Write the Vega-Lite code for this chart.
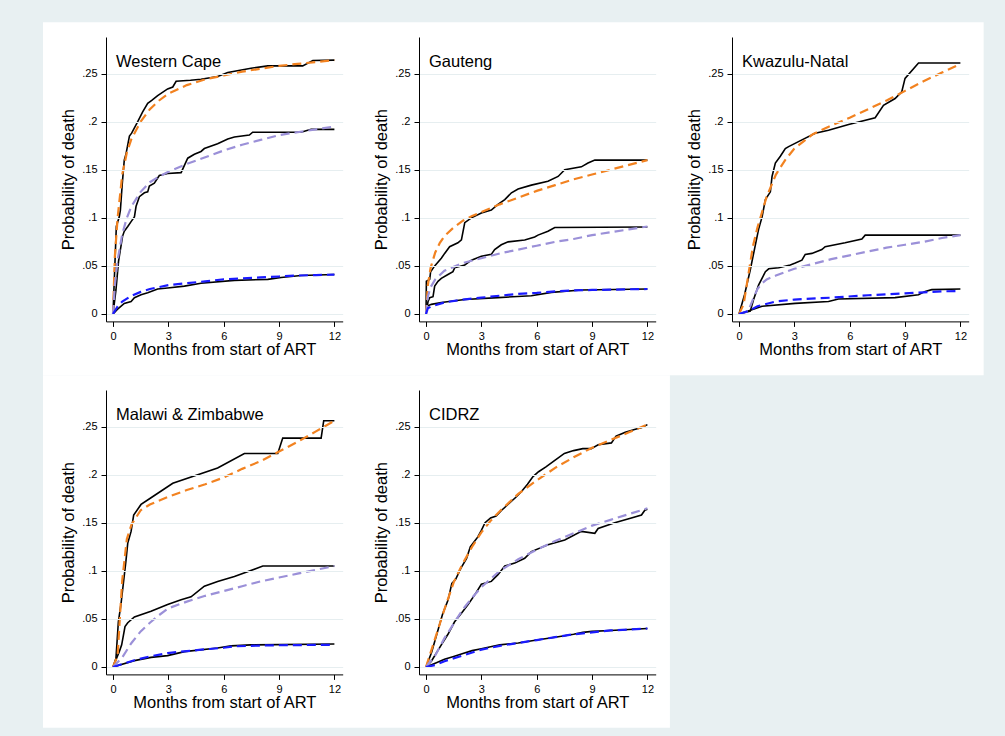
{
"$schema": "https://vega.github.io/schema/vega-lite/v6.json",
"background": "#e8f0f2",
"padding": {"left": 42, "top": 22, "right": 25, "bottom": 10},
"autosize": {"type": "pad"},
"config": {
  "view": {"stroke": null},
  "font": "Liberation Sans",
  "axis": {"domainColor": "black", "tickColor": "black", "labelColor": "black", "titleColor": "black", "labelFontSize": 11, "titleFontSize": 16.5, "titleFontWeight": "normal", "tickSize": 5, "domainWidth": 1, "tickWidth": 1, "labelFont": "Liberation Sans", "titleFont": "Liberation Sans", "labelFlush": false, "labelOverlap": false},
  "axisX": {"grid": false, "labelPadding": 4, "titlePadding": 0},
  "axisY": {"grid": true, "gridColor": "#e6eef0", "gridWidth": 1, "labelPadding": 4, "titlePadding": 5, "labelAngle": 0, "labelExpr": "datum.value == 0 ? '0' : replace(format(datum.value, '.2~f'), '0.', '.')"},
  "title": {"anchor": "start", "frame": "group", "orient": "top", "offset": -48, "dx": 10, "baseline": "alphabetic", "fontSize": 16.5, "fontWeight": "normal", "color": "black", "font": "Liberation Sans"}
},
"datasets": {
"curves": [
{"region":"WC","curve":"k1","month":0,"prob":0},{"region":"WC","curve":"k1","month":0.18,"prob":0.091},{"region":"WC","curve":"k1","month":0.34,"prob":0.101},{"region":"WC","curve":"k1","month":0.4,"prob":0.108},{"region":"WC","curve":"k1","month":0.5,"prob":0.135},{"region":"WC","curve":"k1","month":0.61,"prob":0.16},{"region":"WC","curve":"k1","month":0.7,"prob":0.166},{"region":"WC","curve":"k1","month":0.89,"prob":0.185},{"region":"WC","curve":"k1","month":1.01,"prob":0.188},{"region":"WC","curve":"k1","month":1.34,"prob":0.2},{"region":"WC","curve":"k1","month":1.6,"prob":0.21},{"region":"WC","curve":"k1","month":1.88,"prob":0.219},{"region":"WC","curve":"k1","month":2.1,"prob":0.222},{"region":"WC","curve":"k1","month":2.42,"prob":0.227},{"region":"WC","curve":"k1","month":2.96,"prob":0.234},{"region":"WC","curve":"k1","month":3.24,"prob":0.236},{"region":"WC","curve":"k1","month":3.42,"prob":0.242},{"region":"WC","curve":"k1","month":4.2,"prob":0.243},{"region":"WC","curve":"k1","month":4.77,"prob":0.244},{"region":"WC","curve":"k1","month":5.67,"prob":0.247},{"region":"WC","curve":"k1","month":6.22,"prob":0.251},{"region":"WC","curve":"k1","month":7.48,"prob":0.2555},{"region":"WC","curve":"k1","month":8.39,"prob":0.258},{"region":"WC","curve":"k1","month":10.28,"prob":0.258},{"region":"WC","curve":"k1","month":10.83,"prob":0.2635},{"region":"WC","curve":"k1","month":12,"prob":0.264},
{"region":"WC","curve":"f1","month":0,"prob":0},{"region":"WC","curve":"f1","month":0.05,"prob":0.03},{"region":"WC","curve":"f1","month":0.1,"prob":0.06},{"region":"WC","curve":"f1","month":0.25,"prob":0.1},{"region":"WC","curve":"f1","month":0.5,"prob":0.145},{"region":"WC","curve":"f1","month":0.75,"prob":0.168},{"region":"WC","curve":"f1","month":1,"prob":0.182},{"region":"WC","curve":"f1","month":1.5,"prob":0.2},{"region":"WC","curve":"f1","month":2,"prob":0.213},{"region":"WC","curve":"f1","month":2.5,"prob":0.222},{"region":"WC","curve":"f1","month":3,"prob":0.229},{"region":"WC","curve":"f1","month":4,"prob":0.238},{"region":"WC","curve":"f1","month":5,"prob":0.244},{"region":"WC","curve":"f1","month":6,"prob":0.248},{"region":"WC","curve":"f1","month":7,"prob":0.252},{"region":"WC","curve":"f1","month":8,"prob":0.255},{"region":"WC","curve":"f1","month":9,"prob":0.258},{"region":"WC","curve":"f1","month":10,"prob":0.26},{"region":"WC","curve":"f1","month":11,"prob":0.262},{"region":"WC","curve":"f1","month":12,"prob":0.264},
{"region":"WC","curve":"k2","month":0,"prob":0},{"region":"WC","curve":"k2","month":0.16,"prob":0.025},{"region":"WC","curve":"k2","month":0.3,"prob":0.055},{"region":"WC","curve":"k2","month":0.52,"prob":0.081},{"region":"WC","curve":"k2","month":0.61,"prob":0.086},{"region":"WC","curve":"k2","month":0.8,"prob":0.091},{"region":"WC","curve":"k2","month":0.98,"prob":0.096},{"region":"WC","curve":"k2","month":1.16,"prob":0.101},{"region":"WC","curve":"k2","month":1.25,"prob":0.112},{"region":"WC","curve":"k2","month":1.43,"prob":0.122},{"region":"WC","curve":"k2","month":1.7,"prob":0.126},{"region":"WC","curve":"k2","month":1.88,"prob":0.127},{"region":"WC","curve":"k2","month":1.97,"prob":0.133},{"region":"WC","curve":"k2","month":2.24,"prob":0.136},{"region":"WC","curve":"k2","month":2.51,"prob":0.144},{"region":"WC","curve":"k2","month":2.96,"prob":0.146},{"region":"WC","curve":"k2","month":3.69,"prob":0.147},{"region":"WC","curve":"k2","month":4.05,"prob":0.162},{"region":"WC","curve":"k2","month":4.41,"prob":0.166},{"region":"WC","curve":"k2","month":4.77,"prob":0.169},{"region":"WC","curve":"k2","month":4.95,"prob":0.172},{"region":"WC","curve":"k2","month":5.67,"prob":0.177},{"region":"WC","curve":"k2","month":6.22,"prob":0.182},{"region":"WC","curve":"k2","month":6.58,"prob":0.184},{"region":"WC","curve":"k2","month":7.39,"prob":0.186},{"region":"WC","curve":"k2","month":7.57,"prob":0.189},{"region":"WC","curve":"k2","month":10.19,"prob":0.189},{"region":"WC","curve":"k2","month":10.74,"prob":0.192},{"region":"WC","curve":"k2","month":12,"prob":0.192},
{"region":"WC","curve":"f2","month":0,"prob":0},{"region":"WC","curve":"f2","month":0.1,"prob":0.03},{"region":"WC","curve":"f2","month":0.25,"prob":0.056},{"region":"WC","curve":"f2","month":0.5,"prob":0.083},{"region":"WC","curve":"f2","month":0.75,"prob":0.1},{"region":"WC","curve":"f2","month":1,"prob":0.112},{"region":"WC","curve":"f2","month":1.5,"prob":0.127},{"region":"WC","curve":"f2","month":2,"prob":0.137},{"region":"WC","curve":"f2","month":2.5,"prob":0.143},{"region":"WC","curve":"f2","month":3,"prob":0.148},{"region":"WC","curve":"f2","month":4,"prob":0.156},{"region":"WC","curve":"f2","month":5,"prob":0.163},{"region":"WC","curve":"f2","month":6,"prob":0.17},{"region":"WC","curve":"f2","month":7,"prob":0.176},{"region":"WC","curve":"f2","month":8,"prob":0.181},{"region":"WC","curve":"f2","month":9,"prob":0.186},{"region":"WC","curve":"f2","month":10,"prob":0.189},{"region":"WC","curve":"f2","month":11,"prob":0.192},{"region":"WC","curve":"f2","month":12,"prob":0.195},
{"region":"WC","curve":"k3","month":0,"prob":0},{"region":"WC","curve":"k3","month":0.25,"prob":0.005},{"region":"WC","curve":"k3","month":0.61,"prob":0.011},{"region":"WC","curve":"k3","month":0.98,"prob":0.013},{"region":"WC","curve":"k3","month":1.16,"prob":0.017},{"region":"WC","curve":"k3","month":1.52,"prob":0.02},{"region":"WC","curve":"k3","month":1.88,"prob":0.022},{"region":"WC","curve":"k3","month":2.42,"prob":0.026},{"region":"WC","curve":"k3","month":2.96,"prob":0.027},{"region":"WC","curve":"k3","month":3.87,"prob":0.029},{"region":"WC","curve":"k3","month":4.77,"prob":0.032},{"region":"WC","curve":"k3","month":6.58,"prob":0.035},{"region":"WC","curve":"k3","month":8.39,"prob":0.036},{"region":"WC","curve":"k3","month":9.11,"prob":0.038},{"region":"WC","curve":"k3","month":10.19,"prob":0.04},{"region":"WC","curve":"k3","month":12,"prob":0.041},
{"region":"WC","curve":"f3","month":0,"prob":0},{"region":"WC","curve":"f3","month":0.25,"prob":0.008},{"region":"WC","curve":"f3","month":0.5,"prob":0.013},{"region":"WC","curve":"f3","month":1,"prob":0.019},{"region":"WC","curve":"f3","month":1.5,"prob":0.023},{"region":"WC","curve":"f3","month":2,"prob":0.026},{"region":"WC","curve":"f3","month":3,"prob":0.03},{"region":"WC","curve":"f3","month":4,"prob":0.032},{"region":"WC","curve":"f3","month":5,"prob":0.034},{"region":"WC","curve":"f3","month":6,"prob":0.036},{"region":"WC","curve":"f3","month":7,"prob":0.037},{"region":"WC","curve":"f3","month":8,"prob":0.038},{"region":"WC","curve":"f3","month":9,"prob":0.039},{"region":"WC","curve":"f3","month":10,"prob":0.04},{"region":"WC","curve":"f3","month":11,"prob":0.0405},{"region":"WC","curve":"f3","month":12,"prob":0.041},
{"region":"GP","curve":"k1","month":0,"prob":0},{"region":"GP","curve":"k1","month":0.02,"prob":0.034},{"region":"GP","curve":"k1","month":0.2,"prob":0.036},{"region":"GP","curve":"k1","month":0.25,"prob":0.044},{"region":"GP","curve":"k1","month":0.47,"prob":0.05},{"region":"GP","curve":"k1","month":0.83,"prob":0.058},{"region":"GP","curve":"k1","month":1.01,"prob":0.063},{"region":"GP","curve":"k1","month":1.28,"prob":0.07},{"region":"GP","curve":"k1","month":1.73,"prob":0.074},{"region":"GP","curve":"k1","month":1.92,"prob":0.077},{"region":"GP","curve":"k1","month":2.1,"prob":0.095},{"region":"GP","curve":"k1","month":2.46,"prob":0.1},{"region":"GP","curve":"k1","month":3,"prob":0.105},{"region":"GP","curve":"k1","month":3.54,"prob":0.108},{"region":"GP","curve":"k1","month":3.9,"prob":0.114},{"region":"GP","curve":"k1","month":4.27,"prob":0.119},{"region":"GP","curve":"k1","month":4.63,"prob":0.126},{"region":"GP","curve":"k1","month":4.99,"prob":0.13},{"region":"GP","curve":"k1","month":5.71,"prob":0.134},{"region":"GP","curve":"k1","month":6.61,"prob":0.138},{"region":"GP","curve":"k1","month":7.16,"prob":0.143},{"region":"GP","curve":"k1","month":7.52,"prob":0.15},{"region":"GP","curve":"k1","month":8.42,"prob":0.153},{"region":"GP","curve":"k1","month":8.78,"prob":0.157},{"region":"GP","curve":"k1","month":9.15,"prob":0.16},{"region":"GP","curve":"k1","month":12,"prob":0.16},
{"region":"GP","curve":"f1","month":0,"prob":0},{"region":"GP","curve":"f1","month":0.1,"prob":0.03},{"region":"GP","curve":"f1","month":0.25,"prob":0.048},{"region":"GP","curve":"f1","month":0.5,"prob":0.064},{"region":"GP","curve":"f1","month":0.75,"prob":0.074},{"region":"GP","curve":"f1","month":1,"prob":0.081},{"region":"GP","curve":"f1","month":1.5,"prob":0.09},{"region":"GP","curve":"f1","month":2,"prob":0.097},{"region":"GP","curve":"f1","month":2.5,"prob":0.102},{"region":"GP","curve":"f1","month":3,"prob":0.106},{"region":"GP","curve":"f1","month":4,"prob":0.114},{"region":"GP","curve":"f1","month":5,"prob":0.121},{"region":"GP","curve":"f1","month":6,"prob":0.128},{"region":"GP","curve":"f1","month":7,"prob":0.134},{"region":"GP","curve":"f1","month":8,"prob":0.14},{"region":"GP","curve":"f1","month":9,"prob":0.145},{"region":"GP","curve":"f1","month":10,"prob":0.15},{"region":"GP","curve":"f1","month":11,"prob":0.155},{"region":"GP","curve":"f1","month":12,"prob":0.16},
{"region":"GP","curve":"k2","month":0,"prob":0},{"region":"GP","curve":"k2","month":0.11,"prob":0.013},{"region":"GP","curve":"k2","month":0.2,"prob":0.017},{"region":"GP","curve":"k2","month":0.38,"prob":0.018},{"region":"GP","curve":"k2","month":0.47,"prob":0.029},{"region":"GP","curve":"k2","month":0.65,"prob":0.034},{"region":"GP","curve":"k2","month":0.83,"prob":0.037},{"region":"GP","curve":"k2","month":1.19,"prob":0.041},{"region":"GP","curve":"k2","month":1.46,"prob":0.044},{"region":"GP","curve":"k2","month":1.55,"prob":0.048},{"region":"GP","curve":"k2","month":2.1,"prob":0.051},{"region":"GP","curve":"k2","month":2.46,"prob":0.056},{"region":"GP","curve":"k2","month":3,"prob":0.06},{"region":"GP","curve":"k2","month":3.54,"prob":0.062},{"region":"GP","curve":"k2","month":3.72,"prob":0.067},{"region":"GP","curve":"k2","month":4.08,"prob":0.072},{"region":"GP","curve":"k2","month":4.45,"prob":0.075},{"region":"GP","curve":"k2","month":5.35,"prob":0.077},{"region":"GP","curve":"k2","month":5.89,"prob":0.08},{"region":"GP","curve":"k2","month":6.07,"prob":0.082},{"region":"GP","curve":"k2","month":6.61,"prob":0.086},{"region":"GP","curve":"k2","month":6.98,"prob":0.09},{"region":"GP","curve":"k2","month":12,"prob":0.0905},
{"region":"GP","curve":"f2","month":0,"prob":0},{"region":"GP","curve":"f2","month":0.1,"prob":0.018},{"region":"GP","curve":"f2","month":0.25,"prob":0.028},{"region":"GP","curve":"f2","month":0.5,"prob":0.036},{"region":"GP","curve":"f2","month":1,"prob":0.045},{"region":"GP","curve":"f2","month":1.5,"prob":0.049},{"region":"GP","curve":"f2","month":2,"prob":0.053},{"region":"GP","curve":"f2","month":3,"prob":0.058},{"region":"GP","curve":"f2","month":4,"prob":0.063},{"region":"GP","curve":"f2","month":5,"prob":0.067},{"region":"GP","curve":"f2","month":6,"prob":0.071},{"region":"GP","curve":"f2","month":7,"prob":0.075},{"region":"GP","curve":"f2","month":8,"prob":0.078},{"region":"GP","curve":"f2","month":9,"prob":0.082},{"region":"GP","curve":"f2","month":10,"prob":0.085},{"region":"GP","curve":"f2","month":11,"prob":0.088},{"region":"GP","curve":"f2","month":12,"prob":0.091},
{"region":"GP","curve":"k3","month":0,"prob":0},{"region":"GP","curve":"k3","month":0.04,"prob":0.008},{"region":"GP","curve":"k3","month":0.29,"prob":0.01},{"region":"GP","curve":"k3","month":0.83,"prob":0.012},{"region":"GP","curve":"k3","month":2.1,"prob":0.015},{"region":"GP","curve":"k3","month":3.9,"prob":0.017},{"region":"GP","curve":"k3","month":5.71,"prob":0.019},{"region":"GP","curve":"k3","month":6.8,"prob":0.0225},{"region":"GP","curve":"k3","month":8.42,"prob":0.025},{"region":"GP","curve":"k3","month":12,"prob":0.026},
{"region":"GP","curve":"f3","month":0,"prob":0},{"region":"GP","curve":"f3","month":0.1,"prob":0.006},{"region":"GP","curve":"f3","month":0.3,"prob":0.008},{"region":"GP","curve":"f3","month":1,"prob":0.012},{"region":"GP","curve":"f3","month":2,"prob":0.015},{"region":"GP","curve":"f3","month":3,"prob":0.017},{"region":"GP","curve":"f3","month":4,"prob":0.019},{"region":"GP","curve":"f3","month":5,"prob":0.021},{"region":"GP","curve":"f3","month":6,"prob":0.022},{"region":"GP","curve":"f3","month":7,"prob":0.0235},{"region":"GP","curve":"f3","month":8,"prob":0.0245},{"region":"GP","curve":"f3","month":9,"prob":0.025},{"region":"GP","curve":"f3","month":10,"prob":0.0253},{"region":"GP","curve":"f3","month":11,"prob":0.0257},{"region":"GP","curve":"f3","month":12,"prob":0.026},
{"region":"KZN","curve":"k1","month":0,"prob":0},{"region":"KZN","curve":"k1","month":0.3,"prob":0.02},{"region":"KZN","curve":"k1","month":0.6,"prob":0.045},{"region":"KZN","curve":"k1","month":1.06,"prob":0.088},{"region":"KZN","curve":"k1","month":1.25,"prob":0.101},{"region":"KZN","curve":"k1","month":1.43,"prob":0.119},{"region":"KZN","curve":"k1","month":1.7,"prob":0.127},{"region":"KZN","curve":"k1","month":1.79,"prob":0.143},{"region":"KZN","curve":"k1","month":1.97,"prob":0.157},{"region":"KZN","curve":"k1","month":2.24,"prob":0.164},{"region":"KZN","curve":"k1","month":2.51,"prob":0.172},{"region":"KZN","curve":"k1","month":2.69,"prob":0.174},{"region":"KZN","curve":"k1","month":3.41,"prob":0.181},{"region":"KZN","curve":"k1","month":4.13,"prob":0.188},{"region":"KZN","curve":"k1","month":4.85,"prob":0.191},{"region":"KZN","curve":"k1","month":5.94,"prob":0.197},{"region":"KZN","curve":"k1","month":7.38,"prob":0.204},{"region":"KZN","curve":"k1","month":7.83,"prob":0.217},{"region":"KZN","curve":"k1","month":8.46,"prob":0.224},{"region":"KZN","curve":"k1","month":8.82,"prob":0.231},{"region":"KZN","curve":"k1","month":9,"prob":0.245},{"region":"KZN","curve":"k1","month":9.73,"prob":0.261},{"region":"KZN","curve":"k1","month":12,"prob":0.261},
{"region":"KZN","curve":"f1","month":0,"prob":0},{"region":"KZN","curve":"f1","month":0.25,"prob":0.01},{"region":"KZN","curve":"f1","month":0.5,"prob":0.04},{"region":"KZN","curve":"f1","month":0.75,"prob":0.07},{"region":"KZN","curve":"f1","month":1,"prob":0.09},{"region":"KZN","curve":"f1","month":1.5,"prob":0.122},{"region":"KZN","curve":"f1","month":2,"prob":0.145},{"region":"KZN","curve":"f1","month":2.5,"prob":0.16},{"region":"KZN","curve":"f1","month":3,"prob":0.172},{"region":"KZN","curve":"f1","month":4,"prob":0.187},{"region":"KZN","curve":"f1","month":5,"prob":0.196},{"region":"KZN","curve":"f1","month":6,"prob":0.204},{"region":"KZN","curve":"f1","month":7,"prob":0.213},{"region":"KZN","curve":"f1","month":8,"prob":0.222},{"region":"KZN","curve":"f1","month":9,"prob":0.232},{"region":"KZN","curve":"f1","month":10,"prob":0.242},{"region":"KZN","curve":"f1","month":11,"prob":0.251},{"region":"KZN","curve":"f1","month":12,"prob":0.26},
{"region":"KZN","curve":"k2","month":0,"prob":0},{"region":"KZN","curve":"k2","month":0.61,"prob":0.003},{"region":"KZN","curve":"k2","month":0.79,"prob":0.015},{"region":"KZN","curve":"k2","month":1.06,"prob":0.03},{"region":"KZN","curve":"k2","month":1.43,"prob":0.044},{"region":"KZN","curve":"k2","month":1.61,"prob":0.047},{"region":"KZN","curve":"k2","month":2.15,"prob":0.048},{"region":"KZN","curve":"k2","month":2.78,"prob":0.051},{"region":"KZN","curve":"k2","month":3.05,"prob":0.053},{"region":"KZN","curve":"k2","month":3.41,"prob":0.056},{"region":"KZN","curve":"k2","month":3.59,"prob":0.062},{"region":"KZN","curve":"k2","month":3.95,"prob":0.063},{"region":"KZN","curve":"k2","month":4.49,"prob":0.067},{"region":"KZN","curve":"k2","month":4.67,"prob":0.07},{"region":"KZN","curve":"k2","month":5.75,"prob":0.074},{"region":"KZN","curve":"k2","month":6.66,"prob":0.078},{"region":"KZN","curve":"k2","month":6.84,"prob":0.082},{"region":"KZN","curve":"k2","month":12,"prob":0.082},
{"region":"KZN","curve":"f2","month":0,"prob":0},{"region":"KZN","curve":"f2","month":0.5,"prob":0.003},{"region":"KZN","curve":"f2","month":0.75,"prob":0.015},{"region":"KZN","curve":"f2","month":1,"prob":0.026},{"region":"KZN","curve":"f2","month":1.25,"prob":0.032},{"region":"KZN","curve":"f2","month":1.5,"prob":0.036},{"region":"KZN","curve":"f2","month":2,"prob":0.04},{"region":"KZN","curve":"f2","month":3,"prob":0.047},{"region":"KZN","curve":"f2","month":4,"prob":0.052},{"region":"KZN","curve":"f2","month":5,"prob":0.057},{"region":"KZN","curve":"f2","month":6,"prob":0.061},{"region":"KZN","curve":"f2","month":7,"prob":0.065},{"region":"KZN","curve":"f2","month":8,"prob":0.069},{"region":"KZN","curve":"f2","month":9,"prob":0.072},{"region":"KZN","curve":"f2","month":10,"prob":0.075},{"region":"KZN","curve":"f2","month":11,"prob":0.079},{"region":"KZN","curve":"f2","month":12,"prob":0.082},
{"region":"KZN","curve":"k3","month":0,"prob":0},{"region":"KZN","curve":"k3","month":0.5,"prob":0.003},{"region":"KZN","curve":"k3","month":1.25,"prob":0.008},{"region":"KZN","curve":"k3","month":3.05,"prob":0.011},{"region":"KZN","curve":"k3","month":4.85,"prob":0.013},{"region":"KZN","curve":"k3","month":5.39,"prob":0.0156},{"region":"KZN","curve":"k3","month":8.46,"prob":0.017},{"region":"KZN","curve":"k3","month":9.73,"prob":0.02},{"region":"KZN","curve":"k3","month":10.09,"prob":0.0235},{"region":"KZN","curve":"k3","month":10.45,"prob":0.0253},{"region":"KZN","curve":"k3","month":12,"prob":0.026},
{"region":"KZN","curve":"f3","month":0,"prob":0},{"region":"KZN","curve":"f3","month":0.5,"prob":0.003},{"region":"KZN","curve":"f3","month":1,"prob":0.008},{"region":"KZN","curve":"f3","month":2,"prob":0.013},{"region":"KZN","curve":"f3","month":3,"prob":0.015},{"region":"KZN","curve":"f3","month":5,"prob":0.017},{"region":"KZN","curve":"f3","month":7,"prob":0.0195},{"region":"KZN","curve":"f3","month":9,"prob":0.0215},{"region":"KZN","curve":"f3","month":10,"prob":0.0225},{"region":"KZN","curve":"f3","month":11,"prob":0.0235},{"region":"KZN","curve":"f3","month":12,"prob":0.024},
{"region":"MZ","curve":"k1","month":0,"prob":0},{"region":"MZ","curve":"k1","month":0.16,"prob":0.009},{"region":"MZ","curve":"k1","month":0.29,"prob":0.047},{"region":"MZ","curve":"k1","month":0.43,"prob":0.065},{"region":"MZ","curve":"k1","month":0.7,"prob":0.11},{"region":"MZ","curve":"k1","month":0.8,"prob":0.129},{"region":"MZ","curve":"k1","month":0.98,"prob":0.141},{"region":"MZ","curve":"k1","month":1.12,"prob":0.158},{"region":"MZ","curve":"k1","month":1.52,"prob":0.169},{"region":"MZ","curve":"k1","month":2.06,"prob":0.176},{"region":"MZ","curve":"k1","month":3.24,"prob":0.191},{"region":"MZ","curve":"k1","month":5.67,"prob":0.207},{"region":"MZ","curve":"k1","month":7.12,"prob":0.222},{"region":"MZ","curve":"k1","month":8.93,"prob":0.222},{"region":"MZ","curve":"k1","month":9.2,"prob":0.238},{"region":"MZ","curve":"k1","month":11.28,"prob":0.238},{"region":"MZ","curve":"k1","month":11.42,"prob":0.256},{"region":"MZ","curve":"k1","month":12,"prob":0.256},
{"region":"MZ","curve":"f1","month":0,"prob":0},{"region":"MZ","curve":"f1","month":0.25,"prob":0.012},{"region":"MZ","curve":"f1","month":0.4,"prob":0.06},{"region":"MZ","curve":"f1","month":0.5,"prob":0.09},{"region":"MZ","curve":"f1","month":0.75,"prob":0.133},{"region":"MZ","curve":"f1","month":1,"prob":0.148},{"region":"MZ","curve":"f1","month":1.5,"prob":0.163},{"region":"MZ","curve":"f1","month":2,"prob":0.169},{"region":"MZ","curve":"f1","month":3,"prob":0.177},{"region":"MZ","curve":"f1","month":4,"prob":0.184},{"region":"MZ","curve":"f1","month":5,"prob":0.19},{"region":"MZ","curve":"f1","month":6,"prob":0.197},{"region":"MZ","curve":"f1","month":7,"prob":0.206},{"region":"MZ","curve":"f1","month":8,"prob":0.214},{"region":"MZ","curve":"f1","month":9,"prob":0.224},{"region":"MZ","curve":"f1","month":10,"prob":0.234},{"region":"MZ","curve":"f1","month":11,"prob":0.245},{"region":"MZ","curve":"f1","month":12,"prob":0.256},
{"region":"MZ","curve":"k2","month":0,"prob":0},{"region":"MZ","curve":"k2","month":0.34,"prob":0.016},{"region":"MZ","curve":"k2","month":0.47,"prob":0.023},{"region":"MZ","curve":"k2","month":0.65,"prob":0.042},{"region":"MZ","curve":"k2","month":0.8,"prob":0.046},{"region":"MZ","curve":"k2","month":1.16,"prob":0.052},{"region":"MZ","curve":"k2","month":2.06,"prob":0.058},{"region":"MZ","curve":"k2","month":2.96,"prob":0.065},{"region":"MZ","curve":"k2","month":3.69,"prob":0.07},{"region":"MZ","curve":"k2","month":4.23,"prob":0.073},{"region":"MZ","curve":"k2","month":4.95,"prob":0.084},{"region":"MZ","curve":"k2","month":5.67,"prob":0.089},{"region":"MZ","curve":"k2","month":6.58,"prob":0.094},{"region":"MZ","curve":"k2","month":8.12,"prob":0.105},{"region":"MZ","curve":"k2","month":12,"prob":0.105},
{"region":"MZ","curve":"f2","month":0,"prob":0},{"region":"MZ","curve":"f2","month":0.5,"prob":0.01},{"region":"MZ","curve":"f2","month":1,"prob":0.025},{"region":"MZ","curve":"f2","month":1.5,"prob":0.037},{"region":"MZ","curve":"f2","month":2,"prob":0.046},{"region":"MZ","curve":"f2","month":2.5,"prob":0.054},{"region":"MZ","curve":"f2","month":3,"prob":0.061},{"region":"MZ","curve":"f2","month":4,"prob":0.068},{"region":"MZ","curve":"f2","month":5,"prob":0.074},{"region":"MZ","curve":"f2","month":6,"prob":0.079},{"region":"MZ","curve":"f2","month":7,"prob":0.084},{"region":"MZ","curve":"f2","month":8,"prob":0.089},{"region":"MZ","curve":"f2","month":9,"prob":0.093},{"region":"MZ","curve":"f2","month":10,"prob":0.097},{"region":"MZ","curve":"f2","month":11,"prob":0.101},{"region":"MZ","curve":"f2","month":12,"prob":0.105},
{"region":"MZ","curve":"k3","month":0,"prob":0},{"region":"MZ","curve":"k3","month":1.16,"prob":0.0066},{"region":"MZ","curve":"k3","month":2.06,"prob":0.01},{"region":"MZ","curve":"k3","month":2.96,"prob":0.0118},{"region":"MZ","curve":"k3","month":3.87,"prob":0.016},{"region":"MZ","curve":"k3","month":5.67,"prob":0.0197},{"region":"MZ","curve":"k3","month":6.4,"prob":0.022},{"region":"MZ","curve":"k3","month":7.48,"prob":0.023},{"region":"MZ","curve":"k3","month":12,"prob":0.0239},
{"region":"MZ","curve":"f3","month":0,"prob":0},{"region":"MZ","curve":"f3","month":0.5,"prob":0.003},{"region":"MZ","curve":"f3","month":1.16,"prob":0.007},{"region":"MZ","curve":"f3","month":2,"prob":0.011},{"region":"MZ","curve":"f3","month":2.96,"prob":0.0145},{"region":"MZ","curve":"f3","month":4,"prob":0.0165},{"region":"MZ","curve":"f3","month":4.77,"prob":0.018},{"region":"MZ","curve":"f3","month":6,"prob":0.02},{"region":"MZ","curve":"f3","month":6.58,"prob":0.0215},{"region":"MZ","curve":"f3","month":8.39,"prob":0.0225},{"region":"MZ","curve":"f3","month":10,"prob":0.0228},{"region":"MZ","curve":"f3","month":12,"prob":0.023},
{"region":"CZ","curve":"k1","month":0,"prob":0},{"region":"CZ","curve":"k1","month":0.3,"prob":0.015},{"region":"CZ","curve":"k1","month":0.6,"prob":0.035},{"region":"CZ","curve":"k1","month":0.9,"prob":0.055},{"region":"CZ","curve":"k1","month":1.2,"prob":0.07},{"region":"CZ","curve":"k1","month":1.4,"prob":0.087},{"region":"CZ","curve":"k1","month":1.6,"prob":0.091},{"region":"CZ","curve":"k1","month":1.9,"prob":0.103},{"region":"CZ","curve":"k1","month":2.2,"prob":0.113},{"region":"CZ","curve":"k1","month":2.4,"prob":0.125},{"region":"CZ","curve":"k1","month":2.6,"prob":0.13},{"region":"CZ","curve":"k1","month":2.8,"prob":0.135},{"region":"CZ","curve":"k1","month":3,"prob":0.142},{"region":"CZ","curve":"k1","month":3.2,"prob":0.15},{"region":"CZ","curve":"k1","month":3.5,"prob":0.155},{"region":"CZ","curve":"k1","month":3.8,"prob":0.157},{"region":"CZ","curve":"k1","month":4.1,"prob":0.163},{"region":"CZ","curve":"k1","month":4.5,"prob":0.17},{"region":"CZ","curve":"k1","month":4.9,"prob":0.177},{"region":"CZ","curve":"k1","month":5.2,"prob":0.183},{"region":"CZ","curve":"k1","month":5.5,"prob":0.19},{"region":"CZ","curve":"k1","month":5.8,"prob":0.198},{"region":"CZ","curve":"k1","month":6.1,"prob":0.203},{"region":"CZ","curve":"k1","month":6.5,"prob":0.208},{"region":"CZ","curve":"k1","month":7,"prob":0.215},{"region":"CZ","curve":"k1","month":7.5,"prob":0.222},{"region":"CZ","curve":"k1","month":8,"prob":0.225},{"region":"CZ","curve":"k1","month":8.5,"prob":0.227},{"region":"CZ","curve":"k1","month":8.96,"prob":0.227},{"region":"CZ","curve":"k1","month":9.33,"prob":0.231},{"region":"CZ","curve":"k1","month":10.05,"prob":0.233},{"region":"CZ","curve":"k1","month":10.3,"prob":0.24},{"region":"CZ","curve":"k1","month":10.8,"prob":0.244},{"region":"CZ","curve":"k1","month":11.3,"prob":0.247},{"region":"CZ","curve":"k1","month":11.7,"prob":0.249},{"region":"CZ","curve":"k1","month":12,"prob":0.252},
{"region":"CZ","curve":"f1","month":0,"prob":0},{"region":"CZ","curve":"f1","month":0.5,"prob":0.03},{"region":"CZ","curve":"f1","month":1,"prob":0.06},{"region":"CZ","curve":"f1","month":1.5,"prob":0.088},{"region":"CZ","curve":"f1","month":2,"prob":0.108},{"region":"CZ","curve":"f1","month":2.5,"prob":0.125},{"region":"CZ","curve":"f1","month":3,"prob":0.14},{"region":"CZ","curve":"f1","month":3.5,"prob":0.152},{"region":"CZ","curve":"f1","month":4,"prob":0.162},{"region":"CZ","curve":"f1","month":5,"prob":0.18},{"region":"CZ","curve":"f1","month":6,"prob":0.194},{"region":"CZ","curve":"f1","month":7,"prob":0.207},{"region":"CZ","curve":"f1","month":8,"prob":0.218},{"region":"CZ","curve":"f1","month":9,"prob":0.228},{"region":"CZ","curve":"f1","month":10,"prob":0.236},{"region":"CZ","curve":"f1","month":11,"prob":0.244},{"region":"CZ","curve":"f1","month":12,"prob":0.252},
{"region":"CZ","curve":"k2","month":0,"prob":0},{"region":"CZ","curve":"k2","month":0.29,"prob":0.006},{"region":"CZ","curve":"k2","month":0.83,"prob":0.023},{"region":"CZ","curve":"k2","month":1.19,"prob":0.034},{"region":"CZ","curve":"k2","month":1.55,"prob":0.047},{"region":"CZ","curve":"k2","month":1.92,"prob":0.056},{"region":"CZ","curve":"k2","month":2.28,"prob":0.065},{"region":"CZ","curve":"k2","month":2.64,"prob":0.075},{"region":"CZ","curve":"k2","month":3,"prob":0.086},{"region":"CZ","curve":"k2","month":3.18,"prob":0.087},{"region":"CZ","curve":"k2","month":3.54,"prob":0.089},{"region":"CZ","curve":"k2","month":3.9,"prob":0.096},{"region":"CZ","curve":"k2","month":4.27,"prob":0.105},{"region":"CZ","curve":"k2","month":4.81,"prob":0.108},{"region":"CZ","curve":"k2","month":5.35,"prob":0.113},{"region":"CZ","curve":"k2","month":5.71,"prob":0.12},{"region":"CZ","curve":"k2","month":6.61,"prob":0.127},{"region":"CZ","curve":"k2","month":7.52,"prob":0.132},{"region":"CZ","curve":"k2","month":8.42,"prob":0.141},{"region":"CZ","curve":"k2","month":9.15,"prob":0.139},{"region":"CZ","curve":"k2","month":9.33,"prob":0.144},{"region":"CZ","curve":"k2","month":10.23,"prob":0.15},{"region":"CZ","curve":"k2","month":11.13,"prob":0.155},{"region":"CZ","curve":"k2","month":11.68,"prob":0.158},{"region":"CZ","curve":"k2","month":11.86,"prob":0.163},{"region":"CZ","curve":"k2","month":12,"prob":0.164},
{"region":"CZ","curve":"f2","month":0,"prob":0},{"region":"CZ","curve":"f2","month":0.5,"prob":0.012},{"region":"CZ","curve":"f2","month":1,"prob":0.03},{"region":"CZ","curve":"f2","month":1.5,"prob":0.045},{"region":"CZ","curve":"f2","month":2,"prob":0.06},{"region":"CZ","curve":"f2","month":2.5,"prob":0.072},{"region":"CZ","curve":"f2","month":3,"prob":0.083},{"region":"CZ","curve":"f2","month":4,"prob":0.1},{"region":"CZ","curve":"f2","month":5,"prob":0.112},{"region":"CZ","curve":"f2","month":6,"prob":0.122},{"region":"CZ","curve":"f2","month":7,"prob":0.131},{"region":"CZ","curve":"f2","month":8,"prob":0.139},{"region":"CZ","curve":"f2","month":9,"prob":0.147},{"region":"CZ","curve":"f2","month":10,"prob":0.153},{"region":"CZ","curve":"f2","month":11,"prob":0.159},{"region":"CZ","curve":"f2","month":12,"prob":0.165},
{"region":"CZ","curve":"k3","month":0,"prob":0},{"region":"CZ","curve":"k3","month":0.5,"prob":0.004},{"region":"CZ","curve":"k3","month":1,"prob":0.008},{"region":"CZ","curve":"k3","month":1.5,"prob":0.011},{"region":"CZ","curve":"k3","month":2,"prob":0.014},{"region":"CZ","curve":"k3","month":2.5,"prob":0.017},{"region":"CZ","curve":"k3","month":3,"prob":0.019},{"region":"CZ","curve":"k3","month":3.5,"prob":0.021},{"region":"CZ","curve":"k3","month":4,"prob":0.023},{"region":"CZ","curve":"k3","month":5,"prob":0.025},{"region":"CZ","curve":"k3","month":6,"prob":0.028},{"region":"CZ","curve":"k3","month":7,"prob":0.031},{"region":"CZ","curve":"k3","month":8,"prob":0.034},{"region":"CZ","curve":"k3","month":8.5,"prob":0.036},{"region":"CZ","curve":"k3","month":9,"prob":0.037},{"region":"CZ","curve":"k3","month":10,"prob":0.038},{"region":"CZ","curve":"k3","month":11,"prob":0.039},{"region":"CZ","curve":"k3","month":12,"prob":0.04},
{"region":"CZ","curve":"f3","month":0,"prob":0},{"region":"CZ","curve":"f3","month":0.5,"prob":0.002},{"region":"CZ","curve":"f3","month":1,"prob":0.006},{"region":"CZ","curve":"f3","month":2,"prob":0.012},{"region":"CZ","curve":"f3","month":3,"prob":0.018},{"region":"CZ","curve":"f3","month":4,"prob":0.022},{"region":"CZ","curve":"f3","month":5,"prob":0.025},{"region":"CZ","curve":"f3","month":6,"prob":0.028},{"region":"CZ","curve":"f3","month":7,"prob":0.031},{"region":"CZ","curve":"f3","month":8,"prob":0.034},{"region":"CZ","curve":"f3","month":9,"prob":0.036},{"region":"CZ","curve":"f3","month":10,"prob":0.038},{"region":"CZ","curve":"f3","month":11,"prob":0.039},{"region":"CZ","curve":"f3","month":12,"prob":0.04}
]
},
"vconcat": [
{"hconcat": [
{"width": 236.7, "height": 284.4, "data": {"name": "curves"}, "transform": [{"filter": "datum.region == 'WC'"}], "title": {"text": "Western Cape"},
 "layer": [
  {"transform": [{"aggregate": [{"op": "count", "as": "n"}]}], "mark": {"type": "rect", "fill": "white"}, "encoding": {"x": {"datum": -3.795, "type": "quantitative", "scale": {"domain": [-0.38, 12.45], "nice": false, "zero": false}}, "x2": {"datum": 13.17}, "y": {"datum": 0.3034, "type": "quantitative", "scale": {"domain": [-0.0077, 0.288], "nice": false, "zero": false}}, "y2": {"datum": -0.0638}}},
  {"transform": [{"filter": {"field": "curve", "oneOf": ["k1","k2","k3"]}}], "mark": {"type": "line", "color": "black", "strokeWidth": 1.6}, "encoding": {"x": {"field": "month", "type": "quantitative", "scale": {"domain": [-0.38, 12.45], "nice": false, "zero": false}, "axis": {"zindex": 2, "values": [0,3,6,9,12], "title": "Months from start of ART"}}, "y": {"field": "prob", "type": "quantitative", "scale": {"domain": [-0.0077, 0.288], "nice": false, "zero": false}, "axis": {"zindex": 2, "values": [0,0.05,0.1,0.15,0.2,0.25], "title": "Probability of death"}}, "detail": {"field": "curve"}}},
  {"transform": [{"filter": {"field": "curve", "oneOf": ["f1","f2","f3"]}}], "mark": {"type": "line", "strokeWidth": 2.2, "strokeDash": [9, 5]}, "encoding": {"x": {"field": "month", "type": "quantitative"}, "y": {"field": "prob", "type": "quantitative"}, "color": {"field": "curve", "type": "nominal", "scale": {"domain": ["f1","f2","f3"], "range": ["#f28220","#9b90d8","#1a1aff"]}, "legend": null}}}
 ]},
{"width": 236.7, "height": 284.4, "data": {"name": "curves"}, "transform": [{"filter": "datum.region == 'GP'"}], "title": {"text": "Gauteng"},
 "layer": [
  {"transform": [{"aggregate": [{"op": "count", "as": "n"}]}], "mark": {"type": "rect", "fill": "white"}, "encoding": {"x": {"datum": -3.795, "type": "quantitative", "scale": {"domain": [-0.38, 12.45], "nice": false, "zero": false}}, "x2": {"datum": 13.17}, "y": {"datum": 0.3034, "type": "quantitative", "scale": {"domain": [-0.0077, 0.288], "nice": false, "zero": false}}, "y2": {"datum": -0.0638}}},
  {"transform": [{"filter": {"field": "curve", "oneOf": ["k1","k2","k3"]}}], "mark": {"type": "line", "color": "black", "strokeWidth": 1.6}, "encoding": {"x": {"field": "month", "type": "quantitative", "scale": {"domain": [-0.38, 12.45], "nice": false, "zero": false}, "axis": {"zindex": 2, "values": [0,3,6,9,12], "title": "Months from start of ART"}}, "y": {"field": "prob", "type": "quantitative", "scale": {"domain": [-0.0077, 0.288], "nice": false, "zero": false}, "axis": {"zindex": 2, "values": [0,0.05,0.1,0.15,0.2,0.25], "title": "Probability of death"}}, "detail": {"field": "curve"}}},
  {"transform": [{"filter": {"field": "curve", "oneOf": ["f1","f2","f3"]}}], "mark": {"type": "line", "strokeWidth": 2.2, "strokeDash": [9, 5]}, "encoding": {"x": {"field": "month", "type": "quantitative"}, "y": {"field": "prob", "type": "quantitative"}, "color": {"field": "curve", "type": "nominal", "scale": {"domain": ["f1","f2","f3"], "range": ["#f28220","#9b90d8","#1a1aff"]}, "legend": null}}}
 ]},
{"width": 236.7, "height": 284.4, "data": {"name": "curves"}, "transform": [{"filter": "datum.region == 'KZN'"}], "title": {"text": "Kwazulu-Natal"},
 "layer": [
  {"transform": [{"aggregate": [{"op": "count", "as": "n"}]}], "mark": {"type": "rect", "fill": "white"}, "encoding": {"x": {"datum": -3.795, "type": "quantitative", "scale": {"domain": [-0.38, 12.45], "nice": false, "zero": false}}, "x2": {"datum": 13.26}, "y": {"datum": 0.3034, "type": "quantitative", "scale": {"domain": [-0.0077, 0.288], "nice": false, "zero": false}}, "y2": {"datum": -0.0638}}},
  {"transform": [{"filter": {"field": "curve", "oneOf": ["k1","k2","k3"]}}], "mark": {"type": "line", "color": "black", "strokeWidth": 1.6}, "encoding": {"x": {"field": "month", "type": "quantitative", "scale": {"domain": [-0.38, 12.45], "nice": false, "zero": false}, "axis": {"zindex": 2, "values": [0,3,6,9,12], "title": "Months from start of ART"}}, "y": {"field": "prob", "type": "quantitative", "scale": {"domain": [-0.0077, 0.288], "nice": false, "zero": false}, "axis": {"zindex": 2, "values": [0,0.05,0.1,0.15,0.2,0.25], "title": "Probability of death"}}, "detail": {"field": "curve"}}},
  {"transform": [{"filter": {"field": "curve", "oneOf": ["f1","f2","f3"]}}], "mark": {"type": "line", "strokeWidth": 2.2, "strokeDash": [9, 5]}, "encoding": {"x": {"field": "month", "type": "quantitative"}, "y": {"field": "prob", "type": "quantitative"}, "color": {"field": "curve", "type": "nominal", "scale": {"domain": ["f1","f2","f3"], "range": ["#f28220","#9b90d8","#1a1aff"]}, "legend": null}}}
 ]}
], "spacing": -1},
{"hconcat": [
{"width": 236.7, "height": 284.4, "data": {"name": "curves"}, "transform": [{"filter": "datum.region == 'MZ'"}], "title": {"text": "Malawi & Zimbabwe"},
 "layer": [
  {"transform": [{"aggregate": [{"op": "count", "as": "n"}]}], "mark": {"type": "rect", "fill": "white"}, "encoding": {"x": {"datum": -3.795, "type": "quantitative", "scale": {"domain": [-0.38, 12.45], "nice": false, "zero": false}}, "x2": {"datum": 13.17}, "y": {"datum": 0.3034, "type": "quantitative", "scale": {"domain": [-0.0077, 0.288], "nice": false, "zero": false}}, "y2": {"datum": -0.0631}}},
  {"transform": [{"filter": {"field": "curve", "oneOf": ["k1","k2","k3"]}}], "mark": {"type": "line", "color": "black", "strokeWidth": 1.6}, "encoding": {"x": {"field": "month", "type": "quantitative", "scale": {"domain": [-0.38, 12.45], "nice": false, "zero": false}, "axis": {"zindex": 2, "values": [0,3,6,9,12], "title": "Months from start of ART"}}, "y": {"field": "prob", "type": "quantitative", "scale": {"domain": [-0.0077, 0.288], "nice": false, "zero": false}, "axis": {"zindex": 2, "values": [0,0.05,0.1,0.15,0.2,0.25], "title": "Probability of death"}}, "detail": {"field": "curve"}}},
  {"transform": [{"filter": {"field": "curve", "oneOf": ["f1","f2","f3"]}}], "mark": {"type": "line", "strokeWidth": 2.2, "strokeDash": [9, 5]}, "encoding": {"x": {"field": "month", "type": "quantitative"}, "y": {"field": "prob", "type": "quantitative"}, "color": {"field": "curve", "type": "nominal", "scale": {"domain": ["f1","f2","f3"], "range": ["#f28220","#9b90d8","#1a1aff"]}, "legend": null}}}
 ]},
{"width": 236.7, "height": 284.4, "data": {"name": "curves"}, "transform": [{"filter": "datum.region == 'CZ'"}], "title": {"text": "CIDRZ"},
 "layer": [
  {"transform": [{"aggregate": [{"op": "count", "as": "n"}]}], "mark": {"type": "rect", "fill": "white"}, "encoding": {"x": {"datum": -3.795, "type": "quantitative", "scale": {"domain": [-0.38, 12.45], "nice": false, "zero": false}}, "x2": {"datum": 13.22}, "y": {"datum": 0.3034, "type": "quantitative", "scale": {"domain": [-0.0077, 0.288], "nice": false, "zero": false}}, "y2": {"datum": -0.0631}}},
  {"transform": [{"filter": {"field": "curve", "oneOf": ["k1","k2","k3"]}}], "mark": {"type": "line", "color": "black", "strokeWidth": 1.6}, "encoding": {"x": {"field": "month", "type": "quantitative", "scale": {"domain": [-0.38, 12.45], "nice": false, "zero": false}, "axis": {"zindex": 2, "values": [0,3,6,9,12], "title": "Months from start of ART"}}, "y": {"field": "prob", "type": "quantitative", "scale": {"domain": [-0.0077, 0.288], "nice": false, "zero": false}, "axis": {"zindex": 2, "values": [0,0.05,0.1,0.15,0.2,0.25], "title": "Probability of death"}}, "detail": {"field": "curve"}}},
  {"transform": [{"filter": {"field": "curve", "oneOf": ["f1","f2","f3"]}}], "mark": {"type": "line", "strokeWidth": 2.2, "strokeDash": [9, 5]}, "encoding": {"x": {"field": "month", "type": "quantitative"}, "y": {"field": "prob", "type": "quantitative"}, "color": {"field": "curve", "type": "nominal", "scale": {"domain": ["f1","f2","f3"], "range": ["#f28220","#9b90d8","#1a1aff"]}, "legend": null}}}
 ]}
], "spacing": -1}
],
"spacing": -1
}
